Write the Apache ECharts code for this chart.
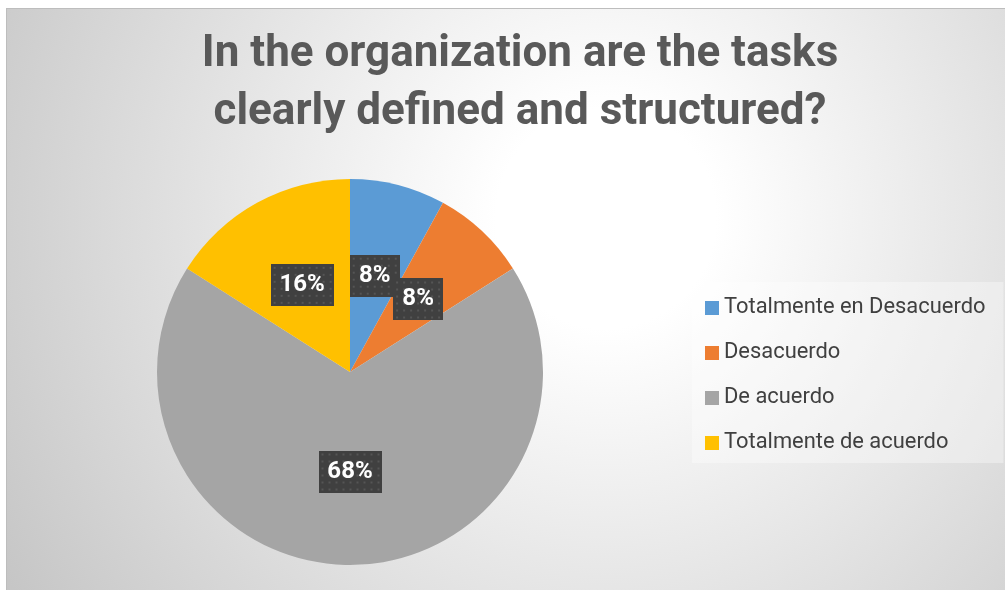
<!DOCTYPE html>
<html>
<head>
<meta charset="utf-8">
<script src="https://cdn.jsdelivr.net/npm/echarts@6/dist/echarts.min.js"></script>
<style>
  html, body { margin: 0; padding: 0; background: #fff; }
  .frame {
    position: absolute; left: 6px; top: 8px; width: 999px; height: 582px;
    border-top: 1px solid #bdbdbd; border-left: 1px solid #bdbdbd; box-sizing: border-box;
    background: radial-gradient(circle at 60% 36%, #ffffff 0px, #ffffff 110px, #c4c4c4 720px);
  }
  #chart { position: absolute; left: 0; top: 0; width: 1005px; height: 590px; }
</style>
</head>
<body>
<div class="frame"></div>
<div id="chart"></div>
<script>
const categories = ['Totalmente en Desacuerdo', 'Desacuerdo', 'De acuerdo', 'Totalmente de acuerdo']
const values = [2, 2, 17, 4]
const colors = ['#5b9bd5', '#ed7d31', '#a5a5a5', '#ffc000']
const titleLines = ['In the organization are the tasks', 'clearly defined and structured?']

const font = 'Roboto, Lato, sans-serif'

// pick a font size so a string gets the width it has in the picture
const fitSize = (text, weight, target) => {
  const ctx = document.createElement('canvas').getContext('2d')
  ctx.font = weight + ' 40px ' + font
  return Math.round(40 * target / ctx.measureText(text).width * 10) / 10
}
const titleSize = fitSize(titleLines[0], 'bold', 637)
const legendSize = fitSize(categories[0], 'normal', 261)

// dark dotted label box
const makeBox = (w, h) => {
  const c = document.createElement('canvas')
  c.width = w
  c.height = h
  const ctx = c.getContext('2d')
  ctx.fillStyle = '#404040'
  ctx.fillRect(0, 0, w, h)
  ctx.fillStyle = '#555555'
  for (let y = 3; y < h; y += 7) {
    for (let x = 3; x < w; x += 7) ctx.fillRect(x, y, 2, 2)
  }
  return c
}

const total = values.reduce((a, b) => a + b, 0)

const chart = echarts.init(document.getElementById('chart'))
chart.setOption({
  backgroundColor: 'transparent',
  animation: false,
  title: {
    text: titleLines.join('\n'),
    left: 515,
    top: 21,
    textAlign: 'center',
    textStyle: {
      fontFamily: font,
      fontWeight: 'bold',
      fontSize: titleSize,
      lineHeight: 58,
      color: '#595959'
    }
  },
  legend: {
    orient: 'vertical',
    left: 692,
    top: 282,
    padding: [14, 18, 8, 13],
    itemGap: 21,
    itemWidth: 14,
    itemHeight: 14,
    icon: 'rect',
    backgroundColor: 'rgba(255,255,255,0.35)',
    textStyle: { fontFamily: font, fontSize: legendSize, lineHeight: 24, color: '#404040' },
    data: categories
  },
  series: [{
    type: 'pie',
    center: [350, 372],
    radius: 193,
    startAngle: 90,
    clockwise: true,
    avoidLabelOverlap: false,
    labelLayout: { hideOverlap: false },
    label: {
      show: true,
      position: 'inside',
      fontFamily: font,
      fontWeight: 'bold',
      fontSize: 24,
      color: '#fff',
      align: 'center',
      verticalAlign: 'middle',
      lineHeight: 42,
      height: 42,
      shadowColor: 'rgba(0,0,0,0.45)',
      shadowBlur: 6,
      shadowOffsetX: 3,
      shadowOffsetY: 3,
      formatter: p => Math.round(p.value / total * 100) + '%'
    },
    labelLine: { show: false },
    emphasis: { disabled: true },
    data: categories.map((name, i) => {
      const w = Math.round(values[i] / total * 100) >= 10 ? 63 : 50
      return {
        name,
        value: values[i],
        itemStyle: { color: colors[i] },
        label: { width: w, backgroundColor: { image: makeBox(w, 42) } }
      }
    })
  }]
})
</script>
</body>
</html>
